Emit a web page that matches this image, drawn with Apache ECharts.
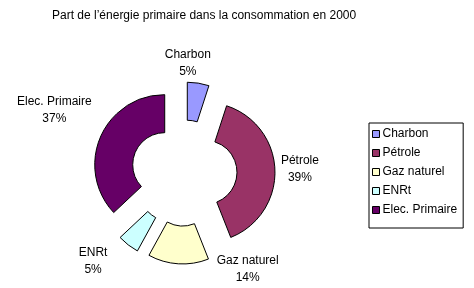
<!DOCTYPE html>
<html><head><meta charset="utf-8">
<script src="https://cdn.jsdelivr.net/npm/echarts@6/dist/echarts.min.js"></script>
<style>html,body{margin:0;padding:0;background:#fff}#c{width:474px;height:288px}</style>
</head><body><div id="c"></div>
<script>
const titleText = "Part de l\u2019énergie primaire dans la consommation en 2000";
const categories = ["Charbon", "Pétrole", "Gaz naturel", "ENRt", "Elec. Primaire"];
const values = [5, 39, 14, 5, 37];
const colors = ["#9999FF", "#993366", "#FFFFCC", "#CCFFFF", "#660066"];
// nudges applied to the library's outside label placement
const labelNudge = [[-17, -10], [10, -1], [75, -5], [-24, 8], [-32, -23]];

const chart = echarts.init(document.getElementById('c'), null, {renderer: 'canvas'});
const FONT = '"Liberation Sans", Arial, sans-serif';
chart.setOption({
  animation: false,
  backgroundColor: '#fff',
  title: {
    text: titleText, left: 47, top: 5,
    textStyle: {fontFamily: FONT, fontSize: 12, fontWeight: 'normal', color: '#000'}
  },
  legend: {
    orient: 'vertical', left: 369, top: 123,
    width: 97,
    padding: [5, 6, 12, 3],
    itemGap: 7, itemWidth: 7, itemHeight: 7,
    icon: 'rect',
    borderColor: '#000', borderWidth: 1,
    textStyle: {fontFamily: FONT, fontSize: 12, color: '#000', padding: [0, 0, 0, -2]},
    itemStyle: {borderColor: '#000', borderWidth: 1},
    data: categories
  },
  series: [{
    type: 'pie',
    center: [184, 173],
    radius: [32, 70],
    startAngle: 90,
    selectedMode: 'multiple',
    selectedOffset: 21,
    avoidLabelOverlap: false,
    itemStyle: {borderColor: '#000', borderWidth: 1},
    label: {
      show: true, position: 'outside',
      formatter: p => p.name + '\n' + p.value + '%',
      fontFamily: FONT, fontSize: 12, color: '#000', lineHeight: 17
    },
    labelLine: {show: false, length: 10, length2: 0},
    labelLayout: p => ({dx: labelNudge[p.dataIndex][0], dy: labelNudge[p.dataIndex][1], align: 'center', verticalAlign: 'middle'}),
    emphasis: {disabled: true},
    data: categories.map((c, i) => ({name: c, value: values[i], selected: true, itemStyle: {color: colors[i]}}))
  }]
});
</script></body></html>
